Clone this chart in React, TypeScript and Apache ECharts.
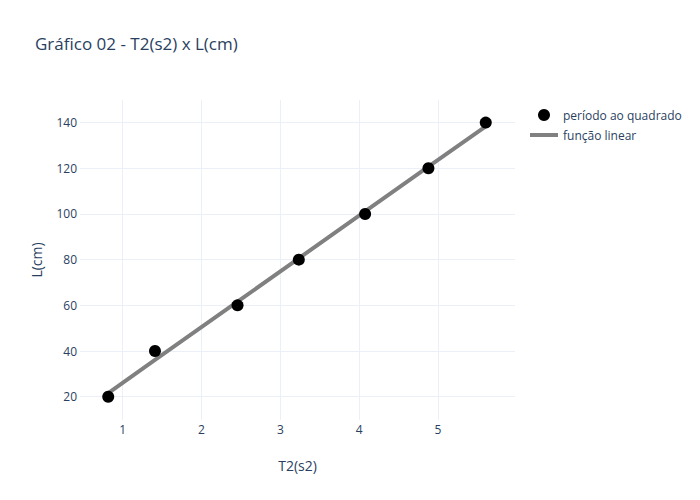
import React, { useEffect, useRef } from "react";
import * as echarts from "echarts";

const periodSquared = [0.817, 1.41, 2.457, 3.234, 4.075, 4.878, 5.605];
const lengths = [20, 40, 60, 80, 100, 120, 140];
const fitValues = [21.6, 36.1, 61.6, 80.6, 101.1, 120.7, 138.4];
const titleText = "Gráfico 02 - T2(s2) x L(cm)";
const seriesNames = ["período ao quadrado", "função linear"];

const FONT = '"Open Sans", verdana, arial, sans-serif';
const TXT = "#2a3f5f";
const GRID = "#ebf0f8";

export default function App() {
  const ref = useRef<HTMLDivElement>(null);
  useEffect(() => {
    if (!ref.current) return;
    const chart = echarts.init(ref.current, undefined, { renderer: "svg" });
    const scatterData = periodSquared.map((x, i) => [x, lengths[i]]);
    const lineData = periodSquared.map((x, i) => [x, fitValues[i]]);
    chart.setOption({
      animation: false,
      backgroundColor: "#fff",
      textStyle: { fontFamily: FONT },
      title: {
        text: titleText,
        left: 35,
        top: 35,
        padding: 0,
        textStyle: { fontFamily: FONT, fontSize: 17, color: TXT, fontWeight: "normal" },
      },
      legend: {
        orient: "vertical",
        left: 530,
        top: 109,
        itemWidth: 28,
        itemHeight: 12,
        itemGap: 8,
        padding: 0,
        textStyle: { fontFamily: FONT, fontSize: 12, color: TXT },
        data: [
          { name: seriesNames[0], icon: "circle", itemStyle: { color: "#000000", opacity: 1 } },
          { name: seriesNames[1], icon: "path://M0,0h28v4h-28z", itemStyle: { color: "#808080" } },
        ],
      },
      grid: { left: 80, right: 185, top: 100, bottom: 80, containLabel: false },
      xAxis: {
        type: "value",
        min: 0.459,
        max: 5.976,
        splitNumber: 5,
        name: "T2(s2)",
        nameLocation: "middle",
        nameGap: 38,
        nameTextStyle: { fontFamily: FONT, fontSize: 14, color: TXT },
        axisLine: { show: false },
        axisTick: { show: false },
        axisLabel: {
          showMinLabel: false,
          showMaxLabel: false,
          fontFamily: FONT,
          fontSize: 12,
          color: TXT,
          margin: 3,
        },
        splitLine: {
          show: true,
          showMinLine: false,
          showMaxLine: false,
          lineStyle: { color: GRID, width: 1 },
        },
      },
      yAxis: {
        type: "value",
        min: 9.8,
        max: 149.9,
        splitNumber: 7,
        name: "L(cm)",
        nameLocation: "middle",
        nameGap: 37,
        nameTextStyle: { fontFamily: FONT, fontSize: 14, color: TXT },
        axisLine: { show: false },
        axisTick: { show: false },
        axisLabel: {
          showMinLabel: false,
          showMaxLabel: false,
          fontFamily: FONT,
          fontSize: 12,
          color: TXT,
          margin: 3,
        },
        splitLine: {
          show: true,
          showMinLine: false,
          showMaxLine: false,
          lineStyle: { color: GRID, width: 1 },
        },
      },
      series: [
        {
          name: seriesNames[0],
          type: "scatter",
          data: scatterData,
          symbol: "circle",
          symbolSize: 12,
          itemStyle: { color: "#000000", opacity: 1 },
          z: 3,
        },
        {
          name: seriesNames[1],
          type: "line",
          data: lineData,
          symbol: "none",
          lineStyle: { color: "#808080", width: 4 },
          itemStyle: { color: "#808080" },
          z: 2,
        },
      ],
    });
    return () => chart.dispose();
  }, []);
  return <div ref={ref} style={{ width: 700, height: 500, margin: -8 }} />;
}
